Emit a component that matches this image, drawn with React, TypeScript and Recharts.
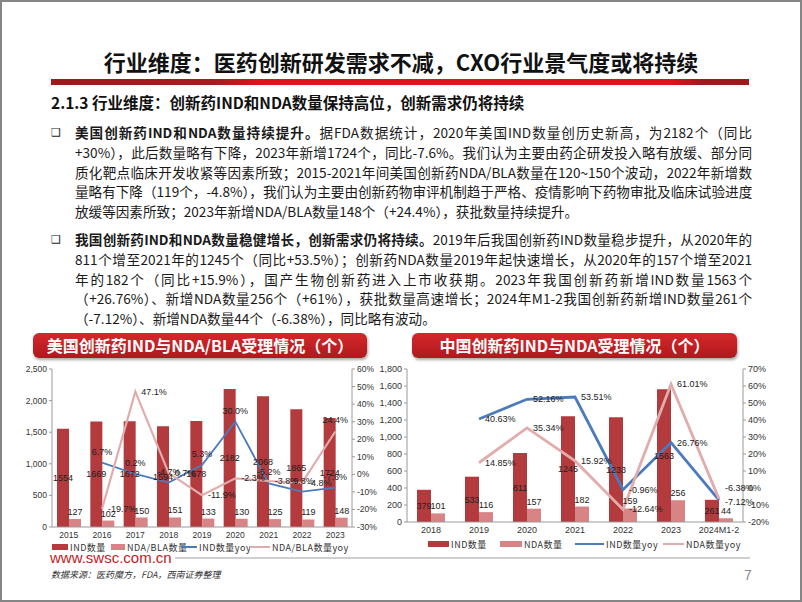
import React from "react";
import { Bar, ComposedChart, LabelList, Line, XAxis, YAxis } from "recharts";

// US: IND / NDA-BLA filings
const usYears = ["2015", "2016", "2017", "2018", "2019", "2020", "2021", "2022", "2023"];
const usInd = [1554, 1669, 1672, 1594, 1678, 2182, 2068, 1865, 1724];
const usNda = [127, 102, 150, 151, 133, 130, 125, 119, 148];
const usIndYoy = [null, 6.7, 0.2, -4.7, 5.3, 30.0, -5.2, -9.8, -7.6];
const usNdaYoy = [null, -19.7, 47.1, 0.7, -11.9, -2.3, -3.8, -4.8, 24.4];
const usLeftTicks = [0, 500, 1000, 1500, 2000, 2500];
const usRightTicks = [-30, -20, -10, 0, 10, 20, 30, 40, 50, 60];

// China: IND / NDA filings
const cnPeriods = ["2018", "2019", "2020", "2021", "2022", "2023", "2024M1-2"];
const cnInd = [379, 533, 811, 1245, 1233, 1563, 261];
const cnNda = [101, 116, 157, 182, 159, 256, 44];
const cnIndYoy = [null, 40.63, 52.16, 53.51, -0.96, 26.76, -7.12];
const cnNdaYoy = [null, 14.85, 35.34, 15.92, -12.64, 61.01, -6.38];
const cnLeftTicks = [0, 200, 400, 600, 800, 1000, 1200, 1400, 1600, 1800];
const cnRightTicks = [-20, -10, 0, 10, 20, 30, 40, 50, 60, 70];

const usData = usYears.map((year, i) => ({
  year,
  ind: usInd[i],
  nda: usNda[i],
  indYoy: usIndYoy[i],
  ndaYoy: usNdaYoy[i]
}));

const cnData = cnPeriods.map((year, i) => ({
  year,
  ind: cnInd[i],
  nda: cnNda[i],
  indYoy: cnIndYoy[i],
  ndaYoy: cnNdaYoy[i]
}));

const IND_RED = "#b33a3d";
const NDA_RED = "#d88385";
const BLUE = "#4a7cbd";
const PINK = "#e2acac";
const LABEL_FONT = "'Liberation Sans', Arial, sans-serif";
const CJK = "'Noto Sans CJK SC', sans-serif";

const axisTick = { fontSize: 8.5, fill: "#333", fontFamily: LABEL_FONT };

// label for yoy lines; lastTopIndex puts one label above its point, lastShift nudges the last label up
function pctLabel(digits: number, mode: "top" | "right", lastTopIndex = -1, lastShift = 0) {
  return (props: any) => {
    const { value, index } = props;
    if (value === null || value === undefined) return null;
    const vb = props.viewBox || {};
    const x = vb.x ?? props.x;
    const y = vb.y ?? props.y;
    const text = `${Number(value).toFixed(digits)}%`;
    const top = mode === "top" || index === lastTopIndex;
    if (top) {
      return (
        <text x={x} y={y - 8} textAnchor="middle" fontSize={9} fill="#222" fontFamily={LABEL_FONT}>
          {text}
        </text>
      );
    }
    const dy = lastShift && index === cnPeriods.length - 1 ? lastShift : 0;
    return (
      <text x={x + 6} y={y + 3 + dy} textAnchor="start" fontSize={9} fill="#222" fontFamily={LABEL_FONT}>
        {text}
      </text>
    );
  };
}

function UsChart() {
  return (
    <ComposedChart width={400} height={185} data={usData} margin={{ top: 9, right: 0, bottom: 0, left: 0 }} barGap={0}>
      <XAxis dataKey="year" height={18} tickSize={3} tickLine={false} axisLine={{ stroke: "#9a9a9a" }} tick={axisTick} interval={0} />
      <YAxis
        yAxisId="l"
        width={52}
        domain={[0, 2500]}
        ticks={usLeftTicks}
        tickSize={3}
        tickFormatter={(v: number) => v.toLocaleString("en-US")}
        axisLine={{ stroke: "#9a9a9a" }}
        tickLine={{ stroke: "#9a9a9a" }}
        tick={axisTick}
      />
      <YAxis
        yAxisId="r"
        orientation="right"
        width={48}
        domain={[-30, 60]}
        ticks={usRightTicks}
        tickSize={3}
        tickFormatter={(v: number) => `${v}%`}
        axisLine={{ stroke: "#9a9a9a" }}
        tickLine={{ stroke: "#9a9a9a" }}
        tick={axisTick}
      />
      <Bar yAxisId="l" dataKey="ind" fill={IND_RED} barSize={12} isAnimationActive={false}>
        <LabelList dataKey="ind" position="center" fontSize={9} fill="#222" fontFamily={LABEL_FONT} />
      </Bar>
      <Bar yAxisId="l" dataKey="nda" fill={NDA_RED} barSize={12} isAnimationActive={false}>
        <LabelList dataKey="nda" position="top" offset={4} fontSize={9} fill="#222" fontFamily={LABEL_FONT} />
      </Bar>
      <Line yAxisId="r" dataKey="indYoy" stroke={BLUE} strokeWidth={1.8} dot={false} isAnimationActive={false}>
        <LabelList dataKey="indYoy" content={pctLabel(1, "top")} />
      </Line>
      <Line yAxisId="r" dataKey="ndaYoy" stroke={PINK} strokeWidth={2.2} dot={false} isAnimationActive={false}>
        <LabelList dataKey="ndaYoy" content={pctLabel(1, "right", usYears.length - 1)} />
      </Line>
    </ComposedChart>
  );
}

function CnChart() {
  return (
    <ComposedChart width={430} height={180} data={cnData} margin={{ top: 9, right: 0, bottom: 0, left: 0 }} barGap={0}>
      <XAxis dataKey="year" height={18} tickSize={3} tickLine={false} axisLine={{ stroke: "#9a9a9a" }} tick={{ ...axisTick, fontSize: 9 }} interval={0} />
      <YAxis
        yAxisId="l"
        width={47}
        domain={[0, 1800]}
        ticks={cnLeftTicks}
        tickSize={3}
        tickFormatter={(v: number) => v.toLocaleString("en-US")}
        axisLine={{ stroke: "#9a9a9a" }}
        tickLine={{ stroke: "#9a9a9a" }}
        tick={{ ...axisTick, fontSize: 9 }}
      />
      <YAxis
        yAxisId="r"
        orientation="right"
        width={47}
        domain={[-20, 70]}
        ticks={cnRightTicks}
        tickSize={3}
        tickFormatter={(v: number) => `${v}%`}
        axisLine={{ stroke: "#9a9a9a" }}
        tickLine={{ stroke: "#9a9a9a" }}
        tick={{ ...axisTick, fontSize: 9 }}
      />
      <Bar yAxisId="l" dataKey="ind" fill={IND_RED} barSize={14} isAnimationActive={false}>
        <LabelList dataKey="ind" position="center" fontSize={9} fill="#222" fontFamily={LABEL_FONT} />
      </Bar>
      <Bar yAxisId="l" dataKey="nda" fill={NDA_RED} barSize={14} isAnimationActive={false}>
        <LabelList dataKey="nda" position="top" offset={4} fontSize={9} fill="#222" fontFamily={LABEL_FONT} />
      </Bar>
      <Line yAxisId="r" dataKey="indYoy" stroke={BLUE} strokeWidth={2.8} dot={false} isAnimationActive={false}>
        <LabelList dataKey="indYoy" content={pctLabel(2, "right", -1, 2)} />
      </Line>
      <Line yAxisId="r" dataKey="ndaYoy" stroke={PINK} strokeWidth={2.8} dot={false} isAnimationActive={false}>
        <LabelList dataKey="ndaYoy" content={pctLabel(2, "right", -1, -11)} />
      </Line>
    </ComposedChart>
  );
}

type LegendEntry = { label: string; color: string; kind: "rect" | "line"; x: number; w: number };

const usLegend: LegendEntry[] = [
  { label: "IND数量", color: IND_RED, kind: "rect", x: 52, w: 16 },
  { label: "NDA/BLA数量", color: NDA_RED, kind: "rect", x: 111, w: 14 },
  { label: "IND数量yoy", color: BLUE, kind: "line", x: 181, w: 16 },
  { label: "NDA/BLA数量yoy", color: PINK, kind: "line", x: 251, w: 19 }
];

const cnLegend: LegendEntry[] = [
  { label: "IND数量", color: IND_RED, kind: "rect", x: 428, w: 21 },
  { label: "NDA数量", color: NDA_RED, kind: "rect", x: 500, w: 22 },
  { label: "IND数量yoy", color: BLUE, kind: "line", x: 575, w: 29 },
  { label: "NDA数量yoy", color: PINK, kind: "line", x: 663, w: 21 }
];

function ChartLegend({ items, y }: { items: LegendEntry[]; y: number }) {
  return (
    <>
      {items.map((item) => (
        <div key={item.label} style={{ position: "absolute", left: item.x, top: y - 7, height: 14, display: "flex", alignItems: "center", whiteSpace: "nowrap" }}>
          <span
            style={{
              display: "inline-block",
              width: item.w,
              height: item.kind === "rect" ? 6 : 2,
              background: item.color,
              marginRight: 2
            }}
          />
          <span style={{ fontSize: 9, color: "#333", fontFamily: CJK, letterSpacing: 0.5 }}>{item.label}</span>
        </div>
      ))}
    </>
  );
}

function SectionTag({ text, left, width }: { text: string; left: number; width: number }) {
  return (
    <div
      style={{
        position: "absolute",
        left,
        top: 333,
        width,
        height: 25,
        borderRadius: 6,
        background: "linear-gradient(#d4282b, #b0181c)",
        boxShadow: "1px 2px 3px rgba(0,0,0,0.35)",
        color: "#fff",
        fontFamily: CJK,
        fontWeight: 700,
        fontSize: 16,
        lineHeight: "25px",
        textAlign: "center",
        whiteSpace: "nowrap"
      }}
    >
      {text}
    </div>
  );
}

type Line = { bold?: string; text: string; last?: boolean };

const para1: Line[] = [
  { bold: "美国创新药IND和NDA数量持续提升。", text: "据FDA数据统计，2020年美国IND数量创历史新高，为2182个（同比" },
  { text: "+30%），此后数量略有下降，2023年新增1724个，同比-7.6%。我们认为主要由药企研发投入略有放缓、部分同" },
  { text: "质化靶点临床开发收紧等因素所致；2015-2021年间美国创新药NDA/BLA数量在120~150个波动，2022年新增数" },
  { text: "量略有下降（119个，-4.8%），我们认为主要由创新药物审评机制趋于严格、疫情影响下药物审批及临床试验进度" },
  { text: "放缓等因素所致；2023年新增NDA/BLA数量148个（+24.4%），获批数量持续提升。", last: true }
];

const para2: Line[] = [
  { bold: "我国创新药IND和NDA数量稳健增长，创新需求仍将持续。", text: "2019年后我国创新药IND数量稳步提升，从2020年的" },
  { text: "811个增至2021年的1245个（同比+53.5%）；创新药NDA数量2019年起快速增长，从2020年的157个增至2021" },
  { text: "年的182个（同比+15.9%），国产生物创新药进入上市收获期。2023年我国创新药新增IND数量1563个" },
  { text: "（+26.76%）、新增NDA数量256个（+61%），获批数量高速增长；2024年M1-2我国创新药新增IND数量261个" },
  { text: "（-7.12%）、新增NDA数量44个（-6.38%），同比略有波动。", last: true }
];

function Paragraph({ lines, top }: { lines: Line[]; top: number }) {
  return (
    <>
      <div style={{ position: "absolute", left: 51, top: top + 2, fontSize: 11, lineHeight: "16px", color: "#222", fontFamily: "'DejaVu Sans', sans-serif" }}>❑</div>
      <div style={{ position: "absolute", left: 75, top, width: 677, fontFamily: CJK, fontSize: 13.6, color: "#1a1a1a" }}>
        {lines.map((line, i) => (
          <div
            key={i}
            style={{
              height: 19.8,
              lineHeight: "19.8px",
              whiteSpace: "nowrap",
              textAlign: "justify",
              textAlignLast: line.last ? "left" : "justify"
            }}
          >
            {line.bold && <span style={{ fontWeight: 700 }}>{line.bold}</span>}
            {line.text}
          </div>
        ))}
      </div>
    </>
  );
}

export default function App() {
  return (
    <div style={{ position: "absolute", left: 0, top: 0, width: 802, height: 602, background: "#fff", overflow: "hidden", fontFamily: CJK }}>
      <div
        style={{
          position: "absolute",
          left: 0,
          top: 49,
          width: 802,
          textAlign: "center",
          fontSize: 22,
          fontWeight: 700,
          lineHeight: "24px",
          color: "#111",
          whiteSpace: "nowrap"
        }}
      >
        行业维度：医药创新研发需求不减，CXO行业景气度或将持续
      </div>
      <div
        style={{
          position: "absolute",
          left: 51,
          top: 79,
          width: 698,
          height: 6,
          background: "linear-gradient(to right, #9c1a1c 0%, #a81b1f 24%, #e0121b 30%, #e0121b 89%, #a01a1d 93%, #9c1a1c 100%)"
        }}
      />
      <div style={{ position: "absolute", left: 51, top: 92, fontSize: 15.5, fontWeight: 700, lineHeight: "20px", color: "#111", whiteSpace: "nowrap" }}>
        2.1.3 行业维度：创新药IND和NDA数量保持高位，创新需求仍将持续
      </div>

      <Paragraph lines={para1} top={123} />
      <Paragraph lines={para2} top={230} />

      <SectionTag text="美国创新药IND与NDA/BLA受理情况（个）" left={33} width={334} />
      <SectionTag text="中国创新药IND与NDA受理情况（个）" left={412} width={325} />

      <div style={{ position: "absolute", left: 0, top: 360 }}>
        <UsChart />
      </div>
      <div style={{ position: "absolute", left: 360, top: 360 }}>
        <CnChart />
      </div>

      <ChartLegend items={usLegend} y={547} />
      <ChartLegend items={cnLegend} y={544} />

      <div style={{ position: "absolute", left: 50, top: 549, fontFamily: LABEL_FONT, fontSize: 15, lineHeight: "18px", color: "#c41a1f" }}>
        www.swsc.com.cn
      </div>
      <div style={{ position: "absolute", left: 175, top: 557, width: 575, height: 2, background: "#cfcfcf" }} />
      <div style={{ position: "absolute", left: 51, top: 568, fontSize: 9, fontStyle: "italic", color: "#333", lineHeight: "14px" }}>
        数据来源：医药魔方，FDA，西南证券整理
      </div>
      <div style={{ position: "absolute", left: 744, top: 566, fontSize: 14, color: "#8a8a8a", lineHeight: "18px", fontFamily: LABEL_FONT }}>
        7
      </div>

      <div style={{ position: "absolute", left: 0, top: 0, width: 802, height: 602, boxSizing: "border-box", border: "2px solid #858585", pointerEvents: "none" }} />
    </div>
  );
}
